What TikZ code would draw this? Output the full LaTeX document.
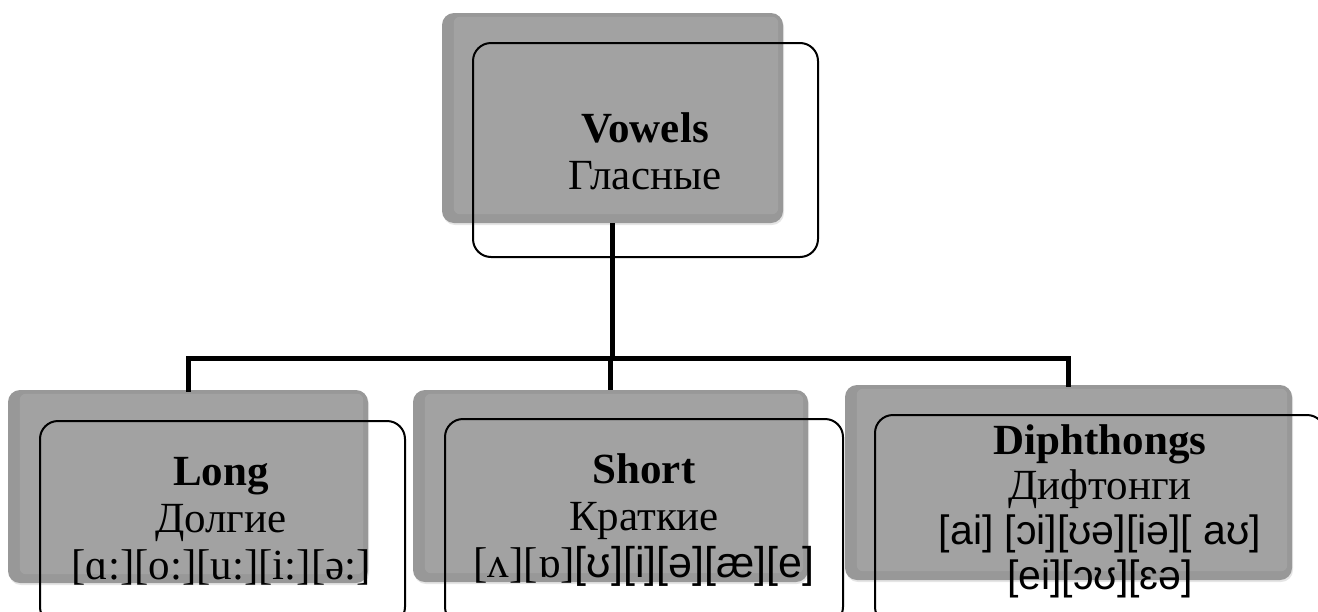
\documentclass[tikz,border=0pt]{standalone}
\usepackage{fontspec}
\setmainfont{Liberation Serif}
\newfontfamily\ipasans{Liberation Sans}
\usetikzlibrary{shadows,calc}
\definecolor{boxgrey}{HTML}{A2A2A2}
\definecolor{bevelgrey}{HTML}{989898}
\begin{document}
\begin{tikzpicture}[x=1pt,y=-1pt,
  greybox/.style={rounded corners=12pt, fill=bevelgrey, draw=none, inner sep=0pt,
    general shadow={fill=black, opacity=0.10, shadow xshift=1pt, shadow yshift=-2pt}},
  outlinebox/.style={rounded corners=18pt, draw=black, line width=2pt, inner sep=0pt},
  txt/.style={align=center, inner sep=0pt, font=\fontsize{43}{47}\selectfont},
  conn/.style={line width=5pt, draw=black}]
\useasboundingbox (0,0) rectangle (1318,611);
\begin{scope}
\clip (0,0) rectangle (1318,611);
% grey boxes
\node[greybox, minimum width=341pt, minimum height=210pt] (gtop) at (612.5,118) {};
\node[greybox, minimum width=360pt, minimum height=193pt] (gl) at (188,486.5) {};
\node[greybox, minimum width=395pt, minimum height=192pt] (gm) at (610.5,486) {};
\node[greybox, minimum width=447pt, minimum height=195pt] (gr) at (1068.5,482.5) {};
\foreach \g in {gtop,gl,gm,gr}{
  \fill[boxgrey, rounded corners=6pt] ($(\g.north west)+(12,4)$) rectangle ($(\g.south east)+(-5,-9)$);
}
% connectors
\coordinate (j) at ($(gtop.south)+(0,135)$);
\draw[conn] (gtop.south) -- (j);
\draw[conn, line cap=rect] (gl.north) |- (j) -| (gr.north);
\draw[conn] (gm.north) -- (gm.north |- j);
% outline boxes
\node[outlinebox, minimum width=345pt, minimum height=214pt] (otop) at (645.5,150) {};
\node[outlinebox, minimum width=365pt, minimum height=204pt] (ol) at (222.5,523) {};
\node[outlinebox, minimum width=398pt, minimum height=206pt] (om) at (644,522) {};
\node[outlinebox, minimum width=450pt, minimum height=210pt] (or) at (1100,520) {};
% texts
\node[txt] (ttop) at (645,151) {\textbf{Vowels}\\Гласные};
\node[txt] (tl) at (221,521) {\textbf{Long}\\Долгие\\{}[ɑ:][o:][u:][i:][ə:]};
\node[txt] (tm) at (644,520) {\textbf{Short}\\Краткие\\{}[ʌ][ɒ]{\ipasans[ʊ][i][ə][æ][e]}};
\node[txt, font=\fontsize{43}{45}\selectfont] (tr) at (1100,511) {\textbf{Diphthongs}\\Дифтонги\\{\ipasans\fontsize{41}{45}\selectfont [ai] [ɔi][ʊə][iə][ aʊ]}\\{\ipasans\fontsize{41}{45}\selectfont [ei][ɔʊ][ɛə]}};
\end{scope}
\end{tikzpicture}
\end{document}
